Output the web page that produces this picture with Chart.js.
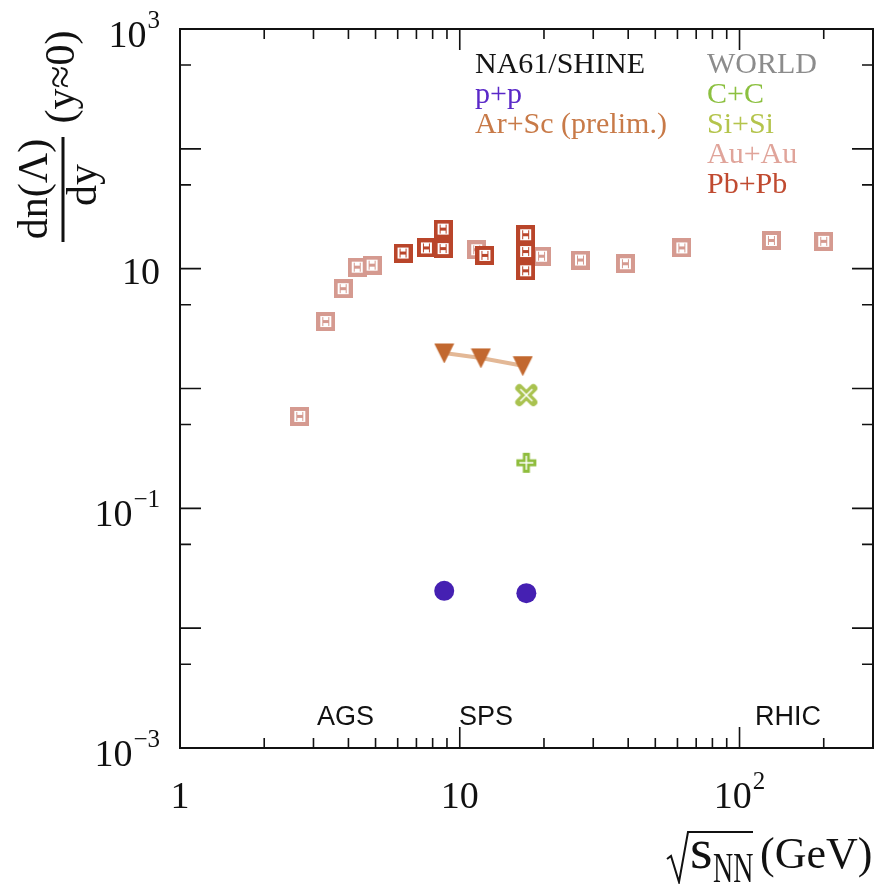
<!DOCTYPE html>
<html lang="en">
<head>
  <meta charset="UTF-8">
  <title>dn(Lambda)/dy vs energy</title>
  <style>
    html, body {
      margin: 0;
      background: #fff;
      overflow: hidden;
    }
    canvas {
      display: block;
    }
  </style>
</head>
<body>

  <canvas id="chartCanvas" width="876" height="884"></canvas>

  <script src="https://cdn.jsdelivr.net/npm/chart.js"></script>

  <script>
    // sqrt(s_NN) in GeV and dn(Lambda)/dy at y~0
    const ppEnergy = [8.8, 17.3];
    const ppYield = [0.0205, 0.0196];
    const arScEnergy = [8.8, 11.9, 16.8];
    const arScYield = [1.98, 1.80, 1.55];
    const ccEnergy = [17.3];
    const ccYield = [0.24];
    const siSiEnergy = [17.3];
    const siSiYield = [0.88];
    const auAuEnergy = [2.68, 3.32, 3.83, 4.30, 4.86, 11.5, 19.6, 27.0, 39.1, 62.2, 130, 200];
    const auAuYield = [0.585, 3.62, 6.81, 10.3, 10.7, 14.4, 12.7, 11.8, 11.0, 14.9, 17.2, 16.9];
    const pbPbEnergy = [6.27, 7.6, 8.72, 8.72, 12.3, 17.2, 17.2, 17.2];
    const pbPbYield = [13.5, 14.9, 21.4, 14.7, 12.9, 19.2, 13.9, 9.6];

    const xTicksMajor = [1, 10, 100];
    const xTicksMinor = [2, 3, 4, 5, 6, 7, 8, 9, 20, 30, 40, 50, 60, 70, 80, 90, 200];
    const xTickLabels = [[1, '1', ''], [10, '10', ''], [100, '10', '2']];
    const yTicksMajor = [1e-2, 1e-1, 1, 10, 100];
    const yTicksMinor = [5e-3, 5e-2, 0.5, 5, 50, 500];
    const yTickLabels = [[1e-3, '10', '\u22123'], [1e-1, '10', '\u22121'], [10, '10', ''], [1e3, '10', '3']];
    const accelerators = [['AGS', 317], ['SPS', 459], ['RHIC', 755]];

    const SERIF = '"Liberation Serif", "Times New Roman", serif';
    const SANS = '"Liberation Sans", Arial, sans-serif';

    // marker pictures (ROOT style)
    function squareMarker(color) {
      const c = document.createElement('canvas');
      c.width = 19; c.height = 19;
      const g = c.getContext('2d');
      g.fillStyle = color; g.fillRect(0, 0, 19, 19);
      g.fillStyle = '#fff'; g.fillRect(4, 4, 11, 11);
      g.fillStyle = color;
      g.fillRect(6, 8, 7, 3);
      g.fillRect(6, 5, 1, 9);
      g.fillRect(12, 5, 1, 9);
      return c;
    }
    function triangleMarker(color) {
      const c = document.createElement('canvas');
      c.width = 21; c.height = 21;
      const g = c.getContext('2d');
      g.fillStyle = color;
      g.beginPath();
      g.moveTo(0.5, 1); g.lineTo(20.5, 1); g.lineTo(10.5, 21); g.closePath();
      g.fill();
      return c;
    }
    function crossMarker(color) {
      const c = document.createElement('canvas');
      c.width = 24; c.height = 24;
      const g = c.getContext('2d');
      g.strokeStyle = color; g.lineWidth = 8; g.lineCap = 'round';
      g.beginPath();
      g.moveTo(5, 5); g.lineTo(19, 19); g.moveTo(19, 5); g.lineTo(5, 19);
      g.stroke();
      g.strokeStyle = '#fff'; g.lineWidth = 1.5; g.lineCap = 'butt';
      g.beginPath();
      g.moveTo(6, 6); g.lineTo(18, 18); g.moveTo(18, 6); g.lineTo(6, 18);
      g.stroke();
      return c;
    }
    function plusMarker(color) {
      const c = document.createElement('canvas');
      c.width = 22; c.height = 22;
      const g = c.getContext('2d');
      g.fillStyle = color;
      g.fillRect(7.5, 1, 7, 20); g.fillRect(1, 7.5, 20, 7);
      g.fillStyle = '#fff';
      g.fillRect(10.25, 4, 1.5, 14); g.fillRect(4, 10.25, 14, 1.5);
      return c;
    }

    const pts = (xs, ys) => xs.map((v, i) => ({ x: v, y: ys[i] }));

    function drawPow(ctx, base, exp, x, baseline, align) {
      ctx.font = '38px ' + SERIF;
      const wb = ctx.measureText(base).width;
      ctx.font = '25px ' + SERIF;
      const we = exp ? ctx.measureText(exp).width + 1 : 0;
      const total = wb + we;
      let x0 = align === 'right' ? x - total : x - total / 2;
      ctx.textAlign = 'left';
      ctx.font = '38px ' + SERIF;
      ctx.fillText(base, x0, baseline);
      if (exp) {
        ctx.font = '25px ' + SERIF;
        ctx.fillText(exp, x0 + wb + 1, baseline - 19);
      }
    }

    const frame = {
      id: 'frame',
      afterDraw(chart) {
        const { ctx, chartArea: a, scales: { x, y } } = chart;
        ctx.save();
        ctx.strokeStyle = '#111';
        ctx.fillStyle = '#111';

        // ticks, all pointing inward
        ctx.lineWidth = 1.6;
        ctx.beginPath();
        xTicksMajor.concat(xTicksMinor).forEach(v => {
          const px = x.getPixelForValue(v);
          const len = xTicksMajor.includes(v) ? 21 : 10;
          ctx.moveTo(px, a.bottom); ctx.lineTo(px, a.bottom - len);
          ctx.moveTo(px, a.top); ctx.lineTo(px, a.top + len);
        });
        yTicksMajor.concat(yTicksMinor).forEach(v => {
          const py = y.getPixelForValue(v);
          const len = yTicksMajor.includes(v) ? 21 : 11;
          ctx.moveTo(a.left, py); ctx.lineTo(a.left + len, py);
          ctx.moveTo(a.right, py); ctx.lineTo(a.right - len, py);
        });
        ctx.stroke();

        ctx.lineWidth = 2;
        ctx.strokeRect(a.left, a.top, a.right - a.left, a.bottom - a.top);

        // tick labels
        ctx.textBaseline = 'alphabetic';
        xTickLabels.forEach(([v, b, e]) => drawPow(ctx, b, e, x.getPixelForValue(v), a.bottom + 60, 'center'));
        yTickLabels.forEach(([v, b, e]) => drawPow(ctx, b, e, a.left - 20, y.getPixelForValue(v) + (e ? 18 : 15), 'right'));

        // accelerator names
        ctx.font = '27px ' + SANS;
        ctx.textAlign = 'left';
        accelerators.forEach(([t, px]) => ctx.fillText(t, px, 725));

        // y title
        ctx.font = '42px ' + SERIF;
        ctx.textAlign = 'center';
        const rot = (t, bx, cy) => {
          ctx.save(); ctx.translate(bx, cy); ctx.rotate(-Math.PI / 2);
          ctx.fillText(t, 0, 0); ctx.restore();
        };
        rot('dn(\u039B)', 47, 189);
        rot('dy', 96, 185);
        rot('(y\u22480)', 74, 77);
        ctx.fillRect(61.5, 137, 3, 105);

        // x title
        ctx.lineWidth = 2;
        ctx.beginPath();
        ctx.moveTo(667, 859); ctx.lineTo(671, 856); ctx.lineTo(679, 882);
        ctx.lineTo(688, 832); ctx.lineTo(753, 832);
        ctx.stroke();
        ctx.textAlign = 'left';
        ctx.font = '58px ' + SERIF;
        ctx.fillText('s', 690, 868);
        ctx.save();
        ctx.translate(713, 882); ctx.scale(1, 1.5);
        ctx.font = '28px ' + SERIF;
        ctx.fillText('NN', 0, 0);
        ctx.restore();
        ctx.font = '44px ' + SERIF;
        ctx.fillText('(GeV)', 760, 868);

        // legend
        ctx.font = '30px ' + SERIF;
        const leg = [
          ['NA61/SHINE', '#151515', 475, 73], ['p+p', '#5a28c8', 475, 103],
          ['Ar+Sc (prelim.)', '#c87a48', 475, 133],
          ['WORLD', '#8c8c8c', 707, 73], ['C+C', '#8cc040', 707, 103],
          ['Si+Si', '#b4c44c', 707, 133], ['Au+Au', '#e0a49a', 707, 163],
          ['Pb+Pb', '#c04a30', 707, 193]
        ];
        leg.forEach(([t, c, px, py]) => { ctx.fillStyle = c; ctx.fillText(t, px, py); });
        ctx.restore();
      }
    };

    const ctx = document.getElementById('chartCanvas').getContext('2d');
    new Chart(ctx, {
      type: 'scatter',
      data: {
        datasets: [
          { label: 'p+p', data: pts(ppEnergy, ppYield), pointStyle: 'circle', pointRadius: 10,
            backgroundColor: '#4520b2', borderColor: '#4520b2', borderWidth: 0 },
          { label: 'Ar+Sc', data: pts(arScEnergy, arScYield), pointStyle: triangleMarker('#c2682f'),
            pointRadius: 9, showLine: true, borderColor: '#e3b896', borderWidth: 4 },
          { label: 'Si+Si', data: pts(siSiEnergy, siSiYield), pointStyle: crossMarker('#a9c24f'), pointRadius: 9 },
          { label: 'C+C', data: pts(ccEnergy, ccYield), pointStyle: plusMarker('#8fbd3d'), pointRadius: 9 },
          { label: 'Pb+Pb', data: pts(pbPbEnergy, pbPbYield), pointStyle: squareMarker('#b9452a'), pointRadius: 9 },
          { label: 'Au+Au', data: pts(auAuEnergy, auAuYield), pointStyle: squareMarker('#d59a90'), pointRadius: 9 }
        ]
      },
      options: {
        responsive: false,
        animation: false,
        layout: { autoPadding: false, padding: { left: 180, right: 3, top: 29, bottom: 136 } },
        plugins: { legend: { display: false }, tooltip: { enabled: false } },
        scales: {
          x: { type: 'logarithmic', min: 1, max: 300, display: false },
          y: { type: 'logarithmic', min: 1e-3, max: 1e3, display: false }
        }
      },
      plugins: [frame]
    });
  </script>

</body>
</html>
